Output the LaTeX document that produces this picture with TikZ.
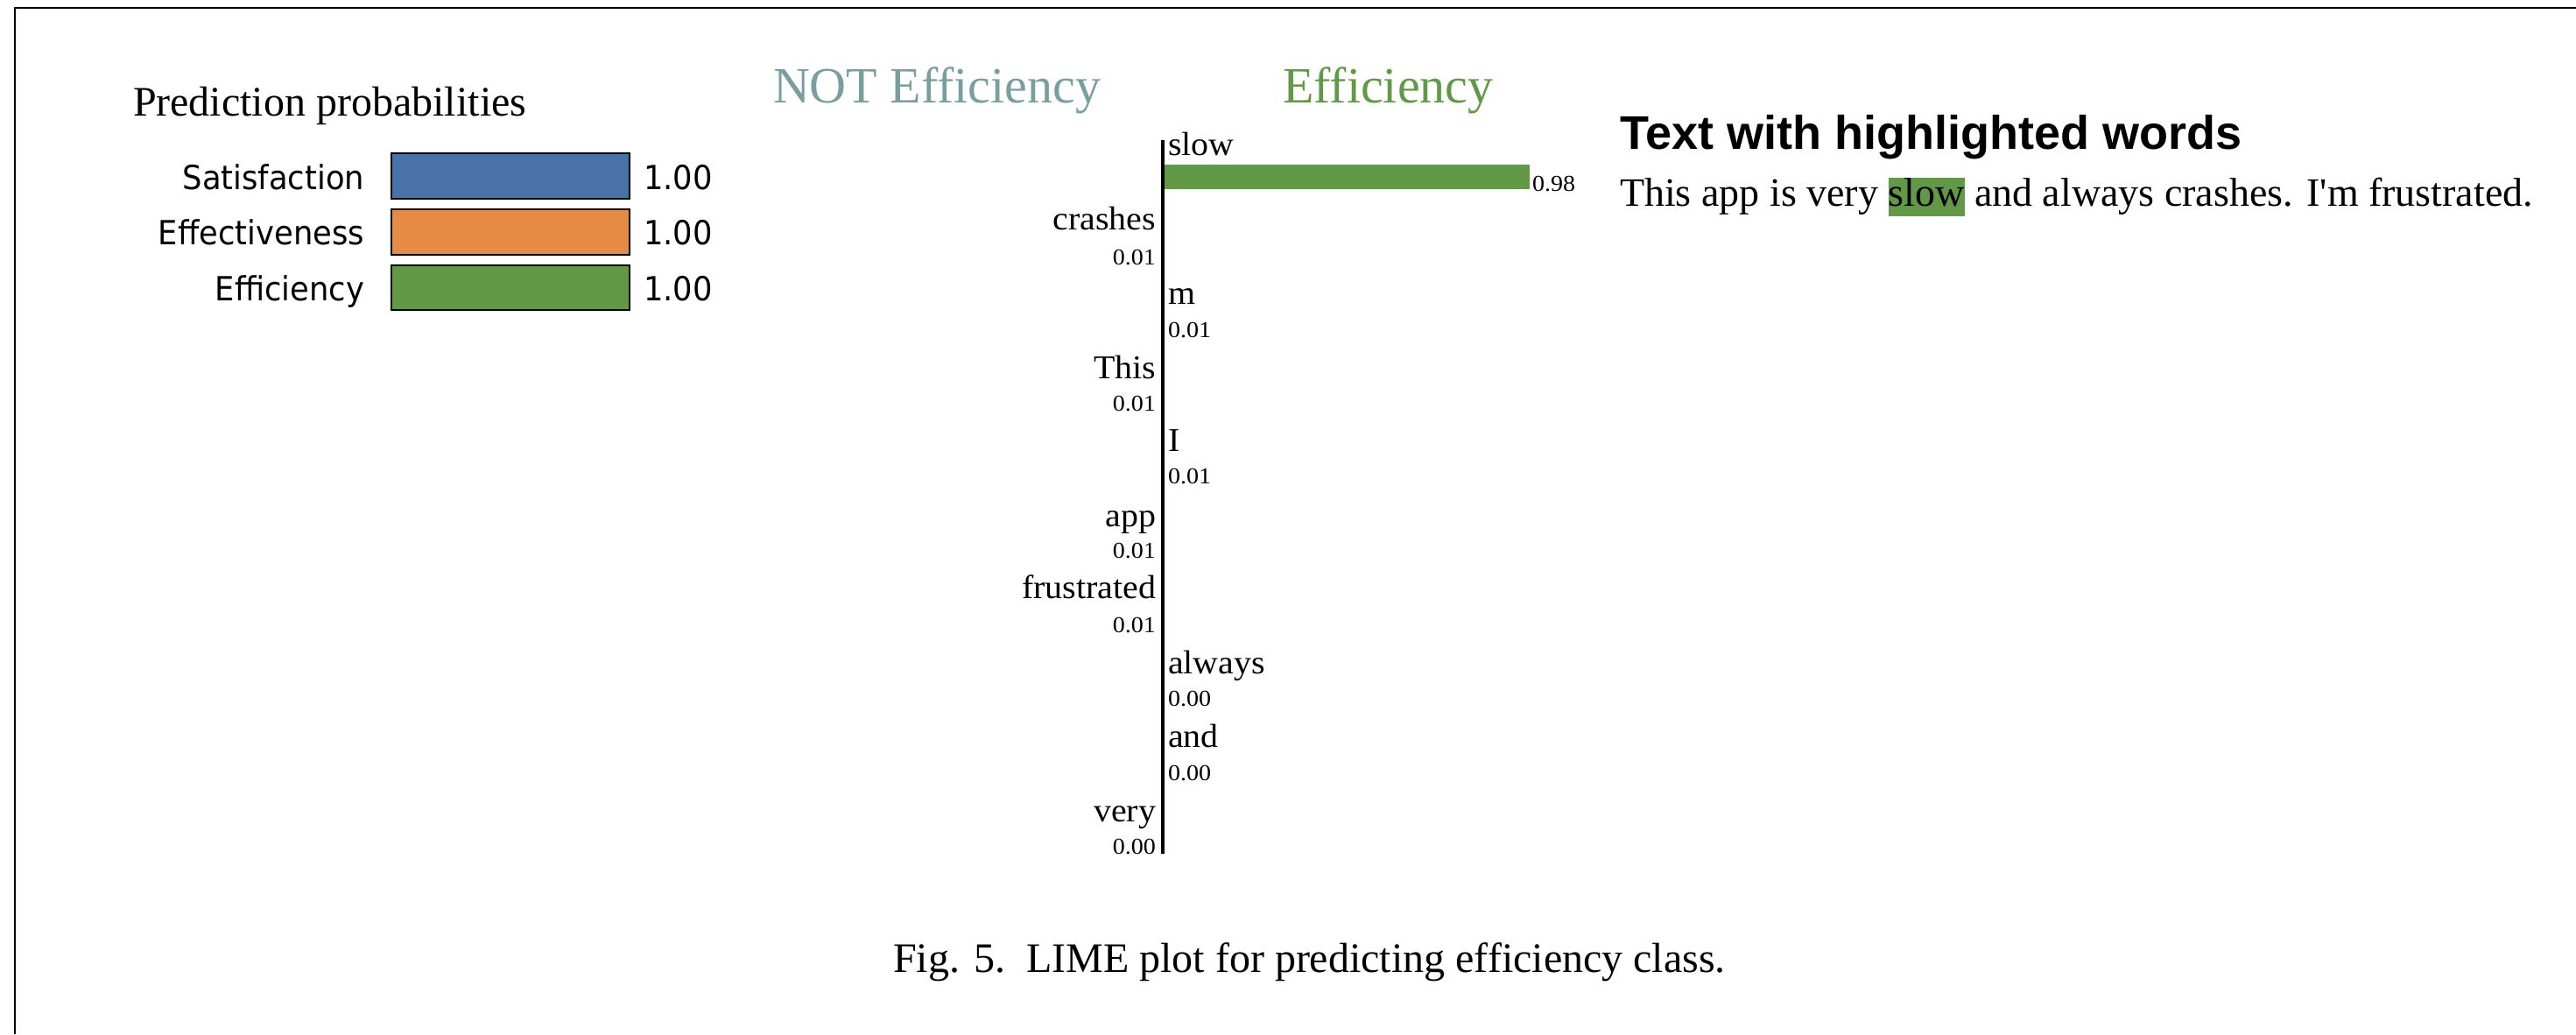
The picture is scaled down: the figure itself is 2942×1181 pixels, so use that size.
\documentclass[tikz,border=0pt]{standalone}
\usepackage{fontspec}
\setmainfont{Liberation Serif}
\newfontfamily\titlefont{Liberation Serif}
\newfontfamily\wordfont[FakeStretch=1.05]{Liberation Serif}
\newfontfamily\valfont[FakeStretch=1.08]{Liberation Serif}
\newfontfamily\lblfont[FakeStretch=0.93]{DejaVu Sans}
\newfontfamily\headfont{Liberation Sans}
\definecolor{cblue}{RGB}{73,114,168}
\definecolor{corange}{RGB}{229,139,69}
\definecolor{cgreen}{RGB}{97,153,71}
\definecolor{cnot}{RGB}{122,158,160}
\newcommand\myfs[1]{\fontsize{#1}{#1}\selectfont}
\newcommand\straightapos{{\XeTeXglyph\XeTeXcharglyph"27\relax}}
\tikzset{
  txt/.style={inner sep=0pt, outer sep=0pt},
  probbar/.style={draw=black, line width=0.6pt},
  problbl/.style={txt, anchor=base east, font=\lblfont\myfs{9.5pt}},
  probval/.style={txt, anchor=base west, font=\lblfont\myfs{9.5pt}},
  wordL/.style={txt, anchor=base east, font=\wordfont\myfs{9.5pt}},
  wordR/.style={txt, anchor=base west, font=\wordfont\myfs{9.5pt}},
  valL/.style={txt, anchor=base east, font=\valfont\myfs{6.5pt}},
  valR/.style={txt, anchor=base west, font=\valfont\myfs{6.5pt}},
  classtitle/.style={txt, anchor=base west, font=\titlefont\myfs{14.5pt}},
}
\begin{document}
\begin{tikzpicture}[x=0.25pt,y=-0.25pt]
\useasboundingbox (0,0) rectangle (2942,1181);
% frame
\draw[line width=0.6pt] (17,1181) -- (17,9) -- (2942,9);

% prediction probabilities
\node[txt, anchor=base west, font=\myfs{12pt}] (pptitle) at (152,132) {Prediction probabilities};
\draw[probbar, fill=cblue] (447,175) rectangle (719,227);
\draw[probbar, fill=corange] (447,239) rectangle (719,291);
\draw[probbar, fill=cgreen] (447,303) rectangle (719,354);
\node[problbl] (lsat) at (416,216) {Satisfaction};
\node[problbl] (leff) at (416,279) {Effectiveness};
\node[problbl] (lefi) at (416,343) {Efficiency};
\node[probval] (vsat) at (735,216) {1.00};
\node[probval] (veff) at (735,279) {1.00};
\node[probval] (vefi) at (735,343) {1.00};

% class titles
\node[classtitle, text=cnot] (notefi) at (883,117) {NOT Efficiency};
\node[classtitle, text=cgreen] (efi) at (1465,117) {Efficiency};

% axis
\coordinate (axtop) at (1328,160);
\coordinate (axbot) at (1328,975);
\draw[line width=1pt] (axtop) -- (axbot);
\fill[cgreen] (1330,188) rectangle (1747,216);

\node[wordR] (wslow) at (1334,177) {slow};
\node[valR] (vslow) at (1750,218) {0.98};
\node[wordL] (wcrashes) at (1320,262) {crashes};
\node[valL] (vcrashes) at (1320,302) {0.01};
\node[wordR] (wm) at (1334,347) {m};
\node[valR] (vm) at (1334,385) {0.01};
\node[wordL] (wthis) at (1320,432) {This};
\node[valL] (vthis) at (1320,469) {0.01};
\node[wordR] (wi) at (1334,515) {I};
\node[valR] (vi) at (1334,552) {0.01};
\node[wordL] (wapp) at (1320,601) {app};
\node[valL] (vapp) at (1320,637) {0.01};
\node[wordL] (wfru) at (1320,683) {frustrated};
\node[valL] (vfru) at (1320,722) {0.01};
\node[wordR] (walw) at (1334,769) {always};
\node[valR] (valw) at (1334,806) {0.00};
\node[wordR] (wand) at (1334,853) {and};
\node[valR] (vand) at (1334,891) {0.00};
\node[wordL] (wvery) at (1320,938) {very};
\node[valL] (vvery) at (1320,975) {0.00};

% highlighted text
\node[txt, anchor=base west, font=\headfont\bfseries\myfs{13.5pt}] (thead) at (1850,170) {Text with highlighted words};
\node[txt, anchor=base west, font=\myfs{11.5pt}] (tbody) at (1850,235)
  {This app is very {\setlength{\fboxsep}{0pt}\colorbox{cgreen}{\rule[-3pt]{0pt}{11pt}slow}} and always crashes. I\straightapos m frustrated.};

% caption
\node[txt, anchor=base west, font=\myfs{12pt}] (cap) at (1020,1110) {Fig. 5.\ \ LIME plot for predicting efficiency class.};
\end{tikzpicture}
\end{document}
